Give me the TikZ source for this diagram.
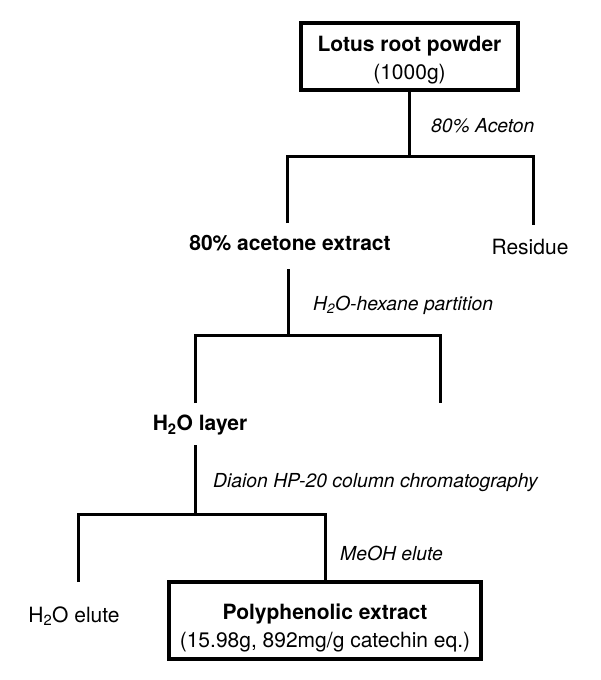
\documentclass[tikz,border=0pt]{standalone}
\usepackage{fontspec}
\setmainfont{TeX Gyre Heros}
\begin{document}
\begin{tikzpicture}[x=1pt,y=-1pt,
  every node/.style={font=\fontsize{21}{28}\selectfont},
  lbl/.style={inner sep=0pt, text height=15pt, text depth=0pt},
  boldlbl/.style={lbl, font=\fontsize{21}{28}\selectfont\bfseries},
  steplbl/.style={inner sep=0pt, text height=14pt, text depth=0pt, anchor=west, font=\fontsize{19.3}{26}\selectfont\itshape},
  bigbox/.style={draw, line width=4pt, inner sep=0pt},
  boxtext/.style={align=center, inner sep=0pt},
  conn/.style={line width=3pt},
]
\useasboundingbox (0,0) rectangle (600,680);

% top box
\node[bigbox, minimum width=217pt, minimum height=67pt] (top) at (409.5,56.5) {};
\node[boxtext] (toptxt) at (409.5,60.5) {\textbf{Lotus root powder}\\(1000g)};

% first split
\coordinate (j1) at ([yshift=-64pt]top.south);
\coordinate (b1) at (287,223);
\coordinate (b2) at (533,225);
\draw[conn] (top.south) -- (j1);
\draw[conn] (b1) |- (j1) -| (b2);
\node[steplbl] (s1) at (431,125) {80\% Aceton};
\node[boldlbl] (acet) at (290,243) {80\% acetone extract};
\node[lbl] (res) at (530,247) {Residue};

% second split
\coordinate (a1) at (288,269);
\coordinate (j2) at (288,335);
\coordinate (c1) at (195,403);
\coordinate (c2) at (440,403);
\draw[conn] (a1) -- (j2);
\draw[conn] (c1) |- (j2) -| (c2);
\node[steplbl] (s2) at (313,303) {H\textsubscript{2}O-hexane partition};
\node[boldlbl] (h2o) at (200,423) {H\textsubscript{2}O layer};

% third split
\node[bigbox, minimum width=312pt, minimum height=77pt] (poly) at (325,620.5) {};
\node[boxtext] (polytxt) at (325,627.5) {\textbf{Polyphenolic extract}\\(15.98g, 892mg/g catechin eq.)};
\coordinate (a2) at (195,445);
\coordinate (j3) at (195,514);
\coordinate (d1) at (78,582);
\draw[conn] (a2) -- (j3);
\draw[conn] (d1) |- (j3) -| (poly.north);
\node[steplbl] (s3) at (213,480) {Diaion HP-20 column chromatography};
\node[steplbl] (s4) at (340,553) {MeOH elute};
\node[lbl] (h2oel) at (74,615) {H\textsubscript{2}O elute};
\end{tikzpicture}
\end{document}
